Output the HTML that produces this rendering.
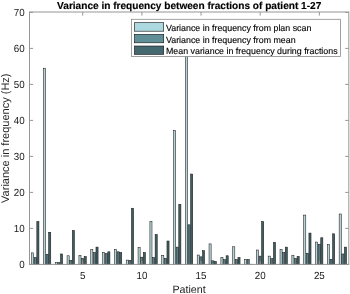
<!DOCTYPE html>
<html><head><meta charset="utf-8"><style>
html,body{margin:0;padding:0;background:#fff;}
body{width:350px;height:294px;overflow:hidden;}
svg{display:block;font-family:"Liberation Sans", sans-serif;filter:blur(0.3px);text-rendering:geometricPrecision;}
</style></head><body>
<svg width="350" height="294" viewBox="0 0 350 294">
<rect x="0" y="0" width="350" height="294" fill="#fff"/>
<g><rect x="31.59" y="252.88" width="2.10" height="11.52" fill="#b9d4d8" stroke="#1a1a1a" stroke-width="0.55"/><rect x="34.21" y="257.56" width="2.10" height="6.84" fill="#5c7f85" stroke="#1a1a1a" stroke-width="0.55"/><rect x="36.83" y="221.56" width="2.10" height="42.84" fill="#405d62" stroke="#1a1a1a" stroke-width="0.55"/><rect x="43.42" y="68.20" width="2.10" height="196.20" fill="#b9d4d8" stroke="#1a1a1a" stroke-width="0.55"/><rect x="46.04" y="254.32" width="2.10" height="10.08" fill="#5c7f85" stroke="#1a1a1a" stroke-width="0.55"/><rect x="48.66" y="232.36" width="2.10" height="32.04" fill="#405d62" stroke="#1a1a1a" stroke-width="0.55"/><rect x="55.25" y="262.60" width="2.10" height="1.80" fill="#b9d4d8" stroke="#1a1a1a" stroke-width="0.55"/><rect x="57.87" y="262.60" width="2.10" height="1.80" fill="#5c7f85" stroke="#1a1a1a" stroke-width="0.55"/><rect x="60.49" y="253.96" width="2.10" height="10.44" fill="#405d62" stroke="#1a1a1a" stroke-width="0.55"/><rect x="67.08" y="255.76" width="2.10" height="8.64" fill="#b9d4d8" stroke="#1a1a1a" stroke-width="0.55"/><rect x="69.70" y="260.44" width="2.10" height="3.96" fill="#5c7f85" stroke="#1a1a1a" stroke-width="0.55"/><rect x="72.32" y="230.56" width="2.10" height="33.84" fill="#405d62" stroke="#1a1a1a" stroke-width="0.55"/><rect x="78.91" y="255.40" width="2.10" height="9.00" fill="#b9d4d8" stroke="#1a1a1a" stroke-width="0.55"/><rect x="81.53" y="258.46" width="2.10" height="5.94" fill="#5c7f85" stroke="#1a1a1a" stroke-width="0.55"/><rect x="84.15" y="256.48" width="2.10" height="7.92" fill="#405d62" stroke="#1a1a1a" stroke-width="0.55"/><rect x="90.74" y="249.64" width="2.10" height="14.76" fill="#b9d4d8" stroke="#1a1a1a" stroke-width="0.55"/><rect x="93.36" y="252.52" width="2.10" height="11.88" fill="#5c7f85" stroke="#1a1a1a" stroke-width="0.55"/><rect x="95.98" y="247.12" width="2.10" height="17.28" fill="#405d62" stroke="#1a1a1a" stroke-width="0.55"/><rect x="102.57" y="252.52" width="2.10" height="11.88" fill="#b9d4d8" stroke="#1a1a1a" stroke-width="0.55"/><rect x="105.19" y="253.60" width="2.10" height="10.80" fill="#5c7f85" stroke="#1a1a1a" stroke-width="0.55"/><rect x="107.81" y="251.80" width="2.10" height="12.60" fill="#405d62" stroke="#1a1a1a" stroke-width="0.55"/><rect x="114.40" y="249.64" width="2.10" height="14.76" fill="#b9d4d8" stroke="#1a1a1a" stroke-width="0.55"/><rect x="117.02" y="251.80" width="2.10" height="12.60" fill="#5c7f85" stroke="#1a1a1a" stroke-width="0.55"/><rect x="119.64" y="252.52" width="2.10" height="11.88" fill="#405d62" stroke="#1a1a1a" stroke-width="0.55"/><rect x="126.23" y="260.08" width="2.10" height="4.32" fill="#b9d4d8" stroke="#1a1a1a" stroke-width="0.55"/><rect x="128.85" y="260.44" width="2.10" height="3.96" fill="#5c7f85" stroke="#1a1a1a" stroke-width="0.55"/><rect x="131.47" y="208.24" width="2.10" height="56.16" fill="#405d62" stroke="#1a1a1a" stroke-width="0.55"/><rect x="138.06" y="247.48" width="2.10" height="16.92" fill="#b9d4d8" stroke="#1a1a1a" stroke-width="0.55"/><rect x="140.68" y="257.20" width="2.10" height="7.20" fill="#5c7f85" stroke="#1a1a1a" stroke-width="0.55"/><rect x="143.30" y="252.52" width="2.10" height="11.88" fill="#405d62" stroke="#1a1a1a" stroke-width="0.55"/><rect x="149.89" y="221.56" width="2.10" height="42.84" fill="#b9d4d8" stroke="#1a1a1a" stroke-width="0.55"/><rect x="152.51" y="257.56" width="2.10" height="6.84" fill="#5c7f85" stroke="#1a1a1a" stroke-width="0.55"/><rect x="155.13" y="234.52" width="2.10" height="29.88" fill="#405d62" stroke="#1a1a1a" stroke-width="0.55"/><rect x="161.72" y="255.40" width="2.10" height="9.00" fill="#b9d4d8" stroke="#1a1a1a" stroke-width="0.55"/><rect x="164.34" y="258.28" width="2.10" height="6.12" fill="#5c7f85" stroke="#1a1a1a" stroke-width="0.55"/><rect x="166.96" y="241.00" width="2.10" height="23.40" fill="#405d62" stroke="#1a1a1a" stroke-width="0.55"/><rect x="173.55" y="130.48" width="2.10" height="133.92" fill="#b9d4d8" stroke="#1a1a1a" stroke-width="0.55"/><rect x="176.17" y="247.12" width="2.10" height="17.28" fill="#5c7f85" stroke="#1a1a1a" stroke-width="0.55"/><rect x="178.79" y="204.28" width="2.10" height="60.12" fill="#405d62" stroke="#1a1a1a" stroke-width="0.55"/><rect x="185.38" y="30.40" width="2.10" height="234.00" fill="#b9d4d8" stroke="#1a1a1a" stroke-width="0.55"/><rect x="188.00" y="224.80" width="2.10" height="39.60" fill="#5c7f85" stroke="#1a1a1a" stroke-width="0.55"/><rect x="190.62" y="174.04" width="2.10" height="90.36" fill="#405d62" stroke="#1a1a1a" stroke-width="0.55"/><rect x="197.21" y="255.04" width="2.10" height="9.36" fill="#b9d4d8" stroke="#1a1a1a" stroke-width="0.55"/><rect x="199.83" y="256.84" width="2.10" height="7.56" fill="#5c7f85" stroke="#1a1a1a" stroke-width="0.55"/><rect x="202.45" y="250.72" width="2.10" height="13.68" fill="#405d62" stroke="#1a1a1a" stroke-width="0.55"/><rect x="209.04" y="243.88" width="2.10" height="20.52" fill="#b9d4d8" stroke="#1a1a1a" stroke-width="0.55"/><rect x="211.66" y="260.80" width="2.10" height="3.60" fill="#5c7f85" stroke="#1a1a1a" stroke-width="0.55"/><rect x="214.28" y="261.52" width="2.10" height="2.88" fill="#405d62" stroke="#1a1a1a" stroke-width="0.55"/><rect x="220.87" y="257.56" width="2.10" height="6.84" fill="#b9d4d8" stroke="#1a1a1a" stroke-width="0.55"/><rect x="223.49" y="259.72" width="2.10" height="4.68" fill="#5c7f85" stroke="#1a1a1a" stroke-width="0.55"/><rect x="226.11" y="255.76" width="2.10" height="8.64" fill="#405d62" stroke="#1a1a1a" stroke-width="0.55"/><rect x="232.70" y="246.76" width="2.10" height="17.64" fill="#b9d4d8" stroke="#1a1a1a" stroke-width="0.55"/><rect x="235.32" y="259.72" width="2.10" height="4.68" fill="#5c7f85" stroke="#1a1a1a" stroke-width="0.55"/><rect x="237.94" y="257.56" width="2.10" height="6.84" fill="#405d62" stroke="#1a1a1a" stroke-width="0.55"/><rect x="244.53" y="259.36" width="2.10" height="5.04" fill="#b9d4d8" stroke="#1a1a1a" stroke-width="0.55"/><rect x="247.15" y="259.36" width="2.10" height="5.04" fill="#5c7f85" stroke="#1a1a1a" stroke-width="0.55"/><rect x="249.77" y="264.22" width="2.10" height="0.18" fill="#405d62" stroke="#1a1a1a" stroke-width="0.55"/><rect x="256.36" y="250.00" width="2.10" height="14.40" fill="#b9d4d8" stroke="#1a1a1a" stroke-width="0.55"/><rect x="258.98" y="256.12" width="2.10" height="8.28" fill="#5c7f85" stroke="#1a1a1a" stroke-width="0.55"/><rect x="261.60" y="221.56" width="2.10" height="42.84" fill="#405d62" stroke="#1a1a1a" stroke-width="0.55"/><rect x="268.19" y="256.12" width="2.10" height="8.28" fill="#b9d4d8" stroke="#1a1a1a" stroke-width="0.55"/><rect x="270.81" y="258.64" width="2.10" height="5.76" fill="#5c7f85" stroke="#1a1a1a" stroke-width="0.55"/><rect x="273.43" y="242.44" width="2.10" height="21.96" fill="#405d62" stroke="#1a1a1a" stroke-width="0.55"/><rect x="280.02" y="249.64" width="2.10" height="14.76" fill="#b9d4d8" stroke="#1a1a1a" stroke-width="0.55"/><rect x="282.64" y="252.52" width="2.10" height="11.88" fill="#5c7f85" stroke="#1a1a1a" stroke-width="0.55"/><rect x="285.26" y="247.12" width="2.10" height="17.28" fill="#405d62" stroke="#1a1a1a" stroke-width="0.55"/><rect x="291.85" y="255.22" width="2.10" height="9.18" fill="#b9d4d8" stroke="#1a1a1a" stroke-width="0.55"/><rect x="294.47" y="258.46" width="2.10" height="5.94" fill="#5c7f85" stroke="#1a1a1a" stroke-width="0.55"/><rect x="297.09" y="256.48" width="2.10" height="7.92" fill="#405d62" stroke="#1a1a1a" stroke-width="0.55"/><rect x="303.68" y="215.08" width="2.10" height="49.32" fill="#b9d4d8" stroke="#1a1a1a" stroke-width="0.55"/><rect x="306.30" y="253.24" width="2.10" height="11.16" fill="#5c7f85" stroke="#1a1a1a" stroke-width="0.55"/><rect x="308.92" y="233.08" width="2.10" height="31.32" fill="#405d62" stroke="#1a1a1a" stroke-width="0.55"/><rect x="315.51" y="242.08" width="2.10" height="22.32" fill="#b9d4d8" stroke="#1a1a1a" stroke-width="0.55"/><rect x="318.13" y="244.24" width="2.10" height="20.16" fill="#5c7f85" stroke="#1a1a1a" stroke-width="0.55"/><rect x="320.75" y="237.76" width="2.10" height="26.64" fill="#405d62" stroke="#1a1a1a" stroke-width="0.55"/><rect x="327.34" y="244.60" width="2.10" height="19.80" fill="#b9d4d8" stroke="#1a1a1a" stroke-width="0.55"/><rect x="329.96" y="259.36" width="2.10" height="5.04" fill="#5c7f85" stroke="#1a1a1a" stroke-width="0.55"/><rect x="332.58" y="233.80" width="2.10" height="30.60" fill="#405d62" stroke="#1a1a1a" stroke-width="0.55"/><rect x="339.17" y="214.00" width="2.10" height="50.40" fill="#b9d4d8" stroke="#1a1a1a" stroke-width="0.55"/><rect x="341.79" y="253.96" width="2.10" height="10.44" fill="#5c7f85" stroke="#1a1a1a" stroke-width="0.55"/><rect x="344.41" y="247.12" width="2.10" height="17.28" fill="#405d62" stroke="#1a1a1a" stroke-width="0.55"/></g>
<g stroke="#969696" stroke-width="1" fill="none">
<rect x="29.5" y="12.0" width="319.3" height="252.39999999999998"/>
<line x1="29.5" y1="264.40" x2="33.1" y2="264.40"/><line x1="348.8" y1="264.40" x2="345.2" y2="264.40"/><line x1="29.5" y1="228.40" x2="33.1" y2="228.40"/><line x1="348.8" y1="228.40" x2="345.2" y2="228.40"/><line x1="29.5" y1="192.40" x2="33.1" y2="192.40"/><line x1="348.8" y1="192.40" x2="345.2" y2="192.40"/><line x1="29.5" y1="156.40" x2="33.1" y2="156.40"/><line x1="348.8" y1="156.40" x2="345.2" y2="156.40"/><line x1="29.5" y1="120.40" x2="33.1" y2="120.40"/><line x1="348.8" y1="120.40" x2="345.2" y2="120.40"/><line x1="29.5" y1="84.40" x2="33.1" y2="84.40"/><line x1="348.8" y1="84.40" x2="345.2" y2="84.40"/><line x1="29.5" y1="48.40" x2="33.1" y2="48.40"/><line x1="348.8" y1="48.40" x2="345.2" y2="48.40"/><line x1="29.5" y1="12.40" x2="33.1" y2="12.40"/><line x1="348.8" y1="12.40" x2="345.2" y2="12.40"/><line x1="82.73" y1="264.4" x2="82.73" y2="260.79999999999995"/><line x1="82.73" y1="12.0" x2="82.73" y2="15.6"/><line x1="141.88" y1="264.4" x2="141.88" y2="260.79999999999995"/><line x1="141.88" y1="12.0" x2="141.88" y2="15.6"/><line x1="201.03" y1="264.4" x2="201.03" y2="260.79999999999995"/><line x1="201.03" y1="12.0" x2="201.03" y2="15.6"/><line x1="260.18" y1="264.4" x2="260.18" y2="260.79999999999995"/><line x1="260.18" y1="12.0" x2="260.18" y2="15.6"/><line x1="319.33" y1="264.4" x2="319.33" y2="260.79999999999995"/><line x1="319.33" y1="12.0" x2="319.33" y2="15.6"/>
</g>
<g font-size="9.8" fill="#1a1a1a"><text transform="translate(24.7,268.00) scale(1,1.05)" text-anchor="end">0</text><text transform="translate(24.7,232.00) scale(1,1.05)" text-anchor="end">10</text><text transform="translate(24.7,196.00) scale(1,1.05)" text-anchor="end">20</text><text transform="translate(24.7,160.00) scale(1,1.05)" text-anchor="end">30</text><text transform="translate(24.7,124.00) scale(1,1.05)" text-anchor="end">40</text><text transform="translate(24.7,88.00) scale(1,1.05)" text-anchor="end">50</text><text transform="translate(24.7,52.00) scale(1,1.05)" text-anchor="end">60</text><text transform="translate(24.7,16.00) scale(1,1.05)" text-anchor="end">70</text><text transform="translate(82.73,278.6) scale(1,1.05)" text-anchor="middle">5</text><text transform="translate(141.88,278.6) scale(1,1.05)" text-anchor="middle">10</text><text transform="translate(201.03,278.6) scale(1,1.05)" text-anchor="middle">15</text><text transform="translate(260.18,278.6) scale(1,1.05)" text-anchor="middle">20</text><text transform="translate(319.33,278.6) scale(1,1.05)" text-anchor="middle">25</text></g>
<text x="189.2" y="8.7" text-anchor="middle" font-size="10.1" font-weight="bold" fill="#000" stroke="#000" stroke-width="0.15">Variance in frequency between fractions of patient 1-27</text>
<text x="189.1" y="292.6" text-anchor="middle" font-size="10.7" fill="#262626">Patient</text>
<text transform="translate(8.7,138.2) rotate(-90)" text-anchor="middle" font-size="11" fill="#262626">Variance in frequency (Hz)</text>
<g>
<rect x="131.5" y="19.3" width="209.0" height="37.1" fill="#fff" stroke="#8a8a8a" stroke-width="0.8"/>
<rect x="134.4" y="22.7" width="29.3" height="8.5" fill="#acd8df" stroke="#111" stroke-width="0.6"/>
<rect x="134.4" y="34.3" width="29.3" height="8.5" fill="#618f98" stroke="#111" stroke-width="0.6"/>
<rect x="134.4" y="46.0" width="29.3" height="8.4" fill="#436870" stroke="#111" stroke-width="0.6"/>
<g font-size="8.85" fill="#000" stroke="#000" stroke-width="0.12">
<text x="166" y="30.9">Variance in frequency from plan scan</text>
<text x="166" y="42.5">Variance in frequency from mean</text>
<text x="166" y="54.1">Mean variance in frequency during fractions</text>
</g>
</g>
</svg>
</body></html>
